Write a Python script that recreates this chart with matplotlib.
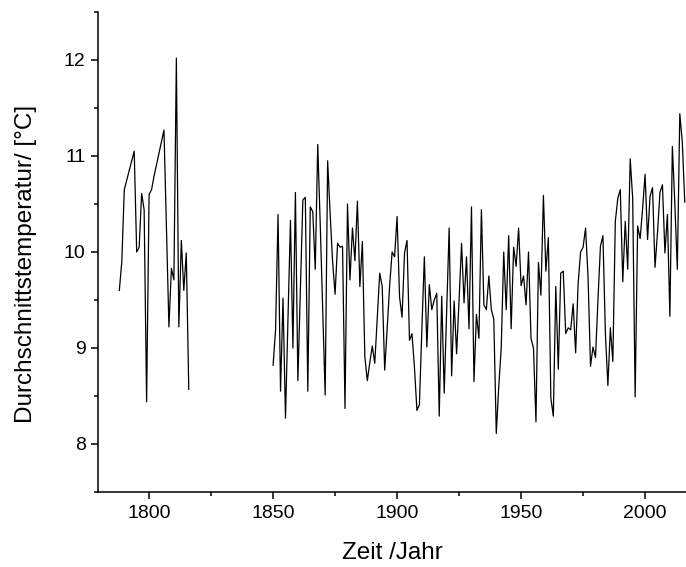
import numpy as np
import matplotlib
matplotlib.use("Agg")
import matplotlib.pyplot as plt
from matplotlib.ticker import MultipleLocator

plt.rcParams["font.family"] = ["Liberation Sans", "DejaVu Sans"]

# ── data: annual mean temperature, two separate records ──────────────
years_early = np.arange(1788, 1817)
temp_early = [
    9.60, 9.90, 10.65, 10.75, 10.85, 10.95, 11.05, 10.00, 10.05, 10.61,
    10.44, 8.44, 10.60, 10.65, 10.79, 10.91, 11.03, 11.15, 11.27, 10.25,
    9.22, 9.83, 9.71, 12.02, 9.22, 10.12, 9.60, 9.99, 8.57,
]

years_late = np.arange(1850, 2017)
temp_late = [
    # 1850-1869
    8.82, 9.19, 10.39, 8.55, 9.52, 8.27, 9.30, 10.33, 9.00, 10.62,
    8.66, 9.60, 10.54, 10.57, 8.55, 10.47, 10.42, 9.82, 11.12, 10.30,
    # 1870-1889
    9.40, 8.51, 10.95, 10.40, 9.90, 9.56, 10.09, 10.05, 10.06, 8.37,
    10.50, 9.71, 10.25, 9.91, 10.53, 9.64, 10.11, 8.91, 8.66, 8.85,
    # 1890-1909
    9.02, 8.84, 9.30, 9.78, 9.64, 8.77, 9.20, 9.65, 10.00, 9.95,
    10.37, 9.53, 9.32, 9.99, 10.12, 9.08, 9.15, 8.80, 8.35, 8.41,
    # 1910-1929
    9.20, 9.95, 9.01, 9.66, 9.40, 9.50, 9.57, 8.29, 9.54, 8.53,
    9.40, 10.25, 8.71, 9.49, 8.94, 9.50, 10.09, 9.47, 9.95, 9.20,
    # 1930-1949
    10.47, 8.65, 9.35, 9.10, 10.44, 9.45, 9.40, 9.75, 9.40, 9.30,
    8.11, 8.60, 9.00, 10.00, 9.40, 10.17, 9.20, 10.05, 9.85, 10.25,
    # 1950-1969
    9.65, 9.75, 9.45, 10.00, 9.10, 9.00, 8.23, 9.89, 9.55, 10.59,
    9.80, 10.15, 8.48, 8.29, 9.64, 8.78, 9.78, 9.80, 9.15, 9.21,
    # 1970-1989
    9.19, 9.46, 8.95, 9.67, 10.00, 10.05, 10.25, 9.74, 8.81, 9.01,
    8.90, 9.50, 10.06, 10.17, 9.15, 8.61, 9.21, 8.86, 10.32, 10.56,
    # 1990-2009
    10.65, 9.69, 10.32, 9.82, 10.97, 10.56, 8.49, 10.27, 10.14, 10.45,
    10.81, 10.13, 10.58, 10.67, 9.84, 10.20, 10.62, 10.70, 9.99, 10.39,
    # 2010-2016
    9.33, 11.10, 10.50, 9.82, 11.44, 11.15, 10.52,
]

x_ticks = [1800, 1850, 1900, 1950, 2000]
y_ticks = [8, 9, 10, 11, 12]

# ── figure ───────────────────────────────────────────────────────────
W, H = 686, 567
fig = plt.figure(figsize=(W / 100, H / 100), dpi=100)
ax = fig.add_axes([98 / W, 75 / H, 588 / W, 480 / H])

ax.plot(years_early, temp_early, color="black", linewidth=0.9)
ax.plot(years_late, temp_late, color="black", linewidth=0.9)

ax.set_xlim(1779.4, 2016.5)
ax.set_ylim(7.5, 12.5)
ax.set_xticks(x_ticks)
ax.set_yticks(y_ticks)
ax.xaxis.set_minor_locator(MultipleLocator(25))
ax.yaxis.set_minor_locator(MultipleLocator(0.5))

for side in ("top", "right"):
    ax.spines[side].set_visible(False)
for side in ("left", "bottom"):
    ax.spines[side].set_linewidth(1.1)

ax.tick_params(which="major", direction="out", length=5, width=1.1,
               labelsize=14, pad=4)
ax.tick_params(which="minor", direction="out", length=3, width=1.1)

ax.set_xlabel("Zeit /Jahr", fontsize=17.5, labelpad=15)
ax.set_ylabel("Durchschnittstemperatur/ [°C]", fontsize=17.5)
ax.yaxis.set_label_coords(-0.104, 0.475)

fig.savefig("out.png", dpi=100)
